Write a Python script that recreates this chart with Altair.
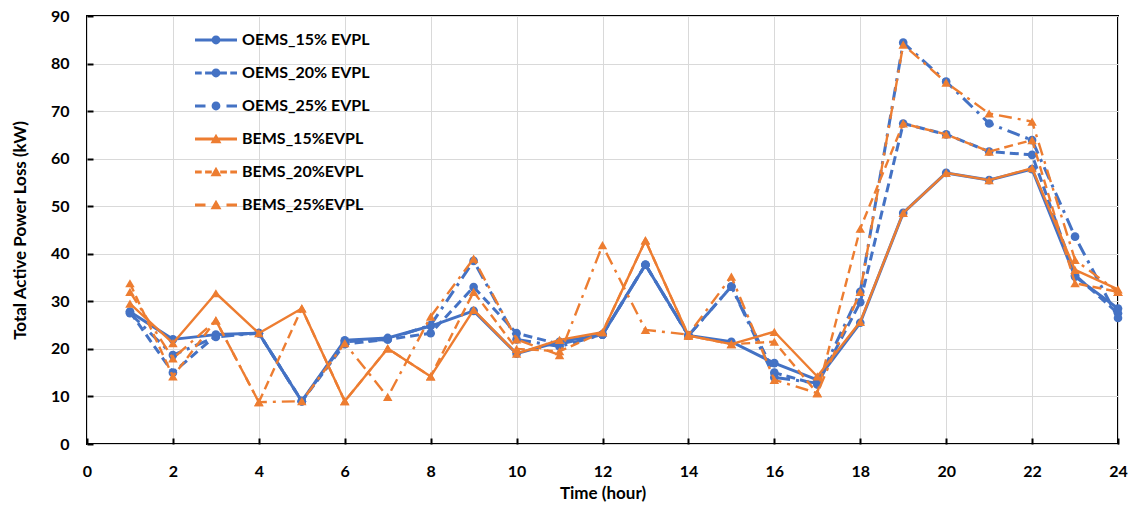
import altair as alt
import pandas as pd

hours = list(range(1, 25))
series_names = ["OEMS_15% EVPL", "OEMS_20% EVPL", "OEMS_25% EVPL",
                "BEMS_15%EVPL", "BEMS_20%EVPL", "BEMS_25%EVPL"]

oems_15 = [27.8, 22.0, 23.0, 23.3, 9.0, 21.8, 22.3, 24.8, 28.0, 19.0, 21.5, 23.0,
           37.7, 22.8, 21.5, 17.0, 13.5, 25.5, 48.6, 57.0, 55.5, 57.8, 35.2, 28.5]
oems_20 = [27.8, 15.0, 22.8, 23.3, 9.0, 21.0, 22.0, 23.3, 33.0, 23.3, 21.0, 23.0,
           37.7, 22.8, 33.1, 15.0, 12.5, 29.8, 67.4, 65.1, 61.5, 60.8, 35.5, 27.5]
oems_25 = [27.5, 18.7, 22.5, 23.3, 9.0, 21.5, 22.0, 25.0, 38.5, 22.0, 20.5, 23.0,
           37.7, 22.8, 33.1, 14.0, 12.8, 32.0, 84.4, 76.2, 67.4, 63.9, 43.6, 26.5]
bems_15 = [29.5, 21.2, 31.7, 23.3, 28.5, 9.0, 20.1, 14.2, 28.2, 19.0, 21.9, 23.5,
           42.8, 22.8, 21.0, 23.6, 14.2, 25.7, 48.6, 57.0, 55.5, 58.0, 36.6, 32.5]
bems_20 = [33.8, 14.2, 26.0, 8.8, 28.5, 9.0, 20.1, 14.2, 32.0, 20.0, 19.5, 23.5,
           42.8, 22.8, 21.0, 21.5, 10.7, 45.3, 67.4, 65.1, 61.5, 63.9, 33.8, 32.0]
bems_25 = [32.0, 18.0, 26.0, 8.8, 9.0, 21.2, 9.9, 26.8, 39.0, 22.0, 18.7, 41.8,
           24.0, 23.0, 35.2, 13.5, 10.7, 32.0, 84.0, 76.0, 69.5, 67.8, 38.7, 32.0]

x_ticks = list(range(0, 25, 2))
y_ticks = list(range(0, 91, 10))

all_values = [oems_15, oems_20, oems_25, bems_15, bems_20, bems_25]
rows = []
for name, vals in zip(series_names, all_values):
    for h, v in zip(hours, vals):
        rows.append({"hour": h, "loss": v, "series": name})
df = pd.DataFrame(rows)

BLUE = "#4472C4"
ORANGE = "#ED7D31"
colors = [BLUE] * 3 + [ORANGE] * 3
widths = [3.0, 3.0, 3.0, 2.4, 2.4, 2.4]
dashes = [None, [9, 5], [13, 6, 3, 6], None, [9, 5], [13, 6, 3, 6]]
shapes = ["circle"] * 3 + ["triangle-up"] * 3
sizes = [75, 75, 75, 90, 90, 90]


def seg(a, b):
    return f"M{a},-0.07H{b}V0.07H{a}Z"


CIRCLE = "M0.21,0A0.21,0.21 0 1,1 -0.21,0A0.21,0.21 0 1,1 0.21,0Z"
TRI = "M0,-0.25L0.26,0.2L-0.26,0.2Z"
solid = seg(-1, 1)
dash20 = seg(-1, -0.68) + seg(-0.52, -0.2) + seg(0.2, 0.52) + seg(0.68, 1)
dash25 = seg(-1, -0.5) + seg(0.5, 1)
legend_paths = [solid + CIRCLE, dash20 + CIRCLE, dash25 + CIRCLE,
                solid + TRI, dash20 + TRI, dash25 + TRI]

FONT = "Lato"
x_scale = alt.Scale(domain=[0, 24], nice=False, zero=False)
y_scale = alt.Scale(domain=[0, 90], nice=False)

x_axis = alt.Axis(values=x_ticks, title="Time (hour)", grid=True, gridColor="#D9D9D9",
                  gridWidth=1, ticks=False, tickSize=0, domain=False, labelPadding=19,
                  labelFont=FONT, labelFontSize=16, labelFontWeight="bold", labelColor="black",
                  titleFont=FONT, titleFontSize=17, titleFontWeight="bold", titleColor="black",
                  titlePadding=6, labelFlush=False)
y_axis = alt.Axis(values=y_ticks, title="Total Active Power Loss (kW)", grid=True,
                  gridColor="#D9D9D9", gridWidth=1, ticks=False, tickSize=0, domain=False,
                  labelPadding=18, labelFont=FONT, labelFontSize=16, labelFontWeight="bold",
                  labelColor="black", titleFont=FONT, titleFontSize=17, titleFontWeight="bold",
                  titleColor="black", titlePadding=21)

base = alt.Chart(df).encode(
    x=alt.X("hour:Q", scale=x_scale, axis=x_axis),
    y=alt.Y("loss:Q", scale=y_scale, axis=y_axis),
)

layers = []
for i, name in enumerate(series_names):
    sub = base.transform_filter(alt.datum.series == name)
    line_kwargs = dict(color=colors[i], strokeWidth=widths[i], strokeJoin="round")
    if dashes[i] is not None:
        line_kwargs["strokeDash"] = dashes[i]
    layers.append(sub.mark_line(**line_kwargs))
    layers.append(sub.mark_point(filled=True, shape=shapes[i], size=sizes[i],
                                 color=colors[i], opacity=1))

leg = alt.Legend(title=None, orient="none", legendX=108, legendY=3, symbolSize=1764,
                 labelFont=FONT, labelFontSize=16, labelFontWeight="bold", labelColor="black",
                 labelOffset=5, rowPadding=4, padding=0, symbolStrokeWidth=0,
                 symbolOpacity=1)
legend_layer = base.transform_filter("false").mark_point(filled=True, opacity=1).encode(
    color=alt.Color("series:N", scale=alt.Scale(domain=series_names, range=colors), legend=leg),
    shape=alt.Shape("series:N", scale=alt.Scale(domain=series_names, range=legend_paths), legend=leg),
)
layers.append(legend_layer)

main = alt.layer(*layers)

tick_layer = alt.Chart(df).mark_point(opacity=0).encode(
    x=alt.X("hour:Q", scale=x_scale,
            axis=alt.Axis(values=x_ticks, orient="bottom", offset=-6, domain=False, labels=False,
                          grid=False, ticks=True, tickSize=6, tickWidth=2, tickColor="black",
                          title=None)),
    y=alt.Y("loss:Q", scale=y_scale,
            axis=alt.Axis(values=y_ticks, orient="left", offset=-6, domain=False, labels=False,
                          grid=False, ticks=True, tickSize=6, tickWidth=2, tickColor="black",
                          title=None)),
)

chart = alt.layer(main, tick_layer).resolve_axis(x="independent", y="independent").properties(
    width=1031, height=428,
    autosize=alt.AutoSizeParams(type="none"),
    padding={"left": 87, "top": 16, "right": 16, "bottom": 62},
    background="white",
).configure_view(stroke="black", strokeWidth=2)

chart.save("out.html", embed_options={"renderer": "svg", "actions": False})
